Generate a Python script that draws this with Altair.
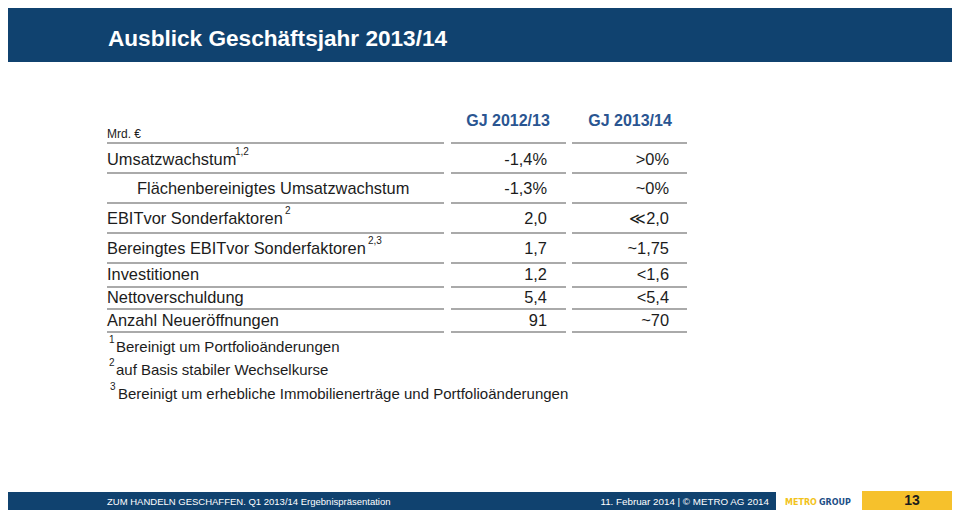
import altair as alt
import pandas as pd

# ---------------- content ----------------
title = "Ausblick Geschäftsjahr 2013/14"
unit = "Mrd. €"
col_headers = ["GJ 2012/13", "GJ 2013/14"]
labels = [
    "Umsatzwachstum",
    "Flächenbereinigtes Umsatzwachstum",
    "EBITvor Sonderfaktoren",
    "Bereingtes EBITvor Sonderfaktoren",
    "Investitionen",
    "Nettoverschuldung",
    "Anzahl Neueröffnungen",
]
label_sups = ["1,2", "", "2", "2,3", "", "", ""]
gj_2012_13 = ["-1,4%", "-1,3%", "2,0", "1,7", "1,2", "5,4", "91"]
gj_2013_14 = [">0%", "~0%", "≪2,0", "~1,75", "<1,6", "<5,4", "~70"]
footnote_marks = ["1", "2", "3"]
footnotes = [
    "Bereinigt um Portfolioänderungen",
    "auf Basis stabiler Wechselkurse",
    "Bereinigt um erhebliche Immobilienerträge und Portfolioänderungen",
]
footer_left = "ZUM HANDELN GESCHAFFEN. Q1 2013/14 Ergebnispräsentation"
footer_right = "11. Februar 2014 | © METRO AG 2014"
logo_parts = ["METRO", "GROUP"]
page_number = "13"

# ---------------- layout (slide coordinates) ----------------
ROW_Y = [160, 189, 219, 249, 275, 298, 321]
RULE_Y = [143, 173, 203, 233, 263, 287, 309, 332]
INDENT = [107, 137, 107, 107, 107, 107, 107]
SUP_X = [235, None, 285, 368, None, None, None]
SEGMENTS = [(107, 444), (451, 566), (572, 687)]
COL_RIGHT = [547, 669]
HEADER_CX = [508, 630]
FOOT_Y = [347, 370, 394]
FOOT_SUP_X = [109, 109, 110]
FOOT_TXT_X = [116, 116, 118]

BLUE = "#10426f"
TXT = "#1c1c1c"
HEAD_BLUE = "#2a5591"
RULE = "#8e8e8e"
YELLOW = "#f6c12c"

# the chart occupies page pixels 8..952 x 8..510 -> map slide coords 1:1
xs = alt.Scale(domain=[8, 952], nice=False, zero=False)
ys = alt.Scale(domain=[8, 510], reverse=True, nice=False, zero=False)


def text_layer(rows, **kw):
    df = pd.DataFrame(rows, columns=["x", "y", "t"])
    return alt.Chart(df).mark_text(**kw).encode(
        x=alt.X("x:Q", scale=xs, axis=None),
        y=alt.Y("y:Q", scale=ys, axis=None),
        text=alt.Text("t:N"),
    )


# bands
bands = pd.DataFrame(
    [
        (8, 952, 8, 62, BLUE),
        (8, 776, 492, 510, BLUE),
        (862, 952, 491, 510, YELLOW),
    ],
    columns=["x", "x2", "y", "y2", "c"],
)
band_layer = alt.Chart(bands).mark_rect().encode(
    x=alt.X("x:Q", scale=xs, axis=None),
    x2="x2:Q",
    y=alt.Y("y:Q", scale=ys, axis=None),
    y2="y2:Q",
    color=alt.Color("c:N", scale=None),
)

# table rules
rule_rows = [(a, b, y) for y in RULE_Y for (a, b) in SEGMENTS]
rules = pd.DataFrame(rule_rows, columns=["x", "x2", "y"])
rule_layer = alt.Chart(rules).mark_rule(color=RULE, strokeWidth=1.6).encode(
    x=alt.X("x:Q", scale=xs, axis=None),
    x2="x2:Q",
    y=alt.Y("y:Q", scale=ys, axis=None),
)

font = "Liberation Sans"

layers = [band_layer, rule_layer]

layers.append(text_layer([(108, 46, title)], font=font, fontSize=22.6, fontWeight="bold",
                         color="white", align="left", baseline="alphabetic"))
layers.append(text_layer([(107, 134, unit)], font=font, fontSize=12, color=TXT,
                         align="left", baseline="middle"))
layers.append(text_layer([(HEADER_CX[i], 121, col_headers[i]) for i in range(2)],
                         font=font, fontSize=16, fontWeight="bold", color=HEAD_BLUE,
                         align="center", baseline="middle"))
layers.append(text_layer([(INDENT[i], ROW_Y[i], labels[i]) for i in range(len(labels))],
                         font=font, fontSize=16.4, color=TXT, align="left", baseline="middle"))
layers.append(text_layer([(SUP_X[i], ROW_Y[i] - 8, label_sups[i]) for i in range(len(labels)) if label_sups[i]],
                         font=font, fontSize=10, color=TXT, align="left", baseline="middle"))
layers.append(text_layer([(COL_RIGHT[0], ROW_Y[i], gj_2012_13[i]) for i in range(len(labels))]
                         + [(COL_RIGHT[1], ROW_Y[i], gj_2013_14[i]) for i in range(len(labels))],
                         font=font, fontSize=16.4, color=TXT, align="right", baseline="middle"))
layers.append(text_layer([(FOOT_SUP_X[i], FOOT_Y[i] - 7, footnote_marks[i]) for i in range(3)],
                         font=font, fontSize=10, color=TXT, align="left", baseline="middle"))
layers.append(text_layer([(FOOT_TXT_X[i], FOOT_Y[i], footnotes[i]) for i in range(3)],
                         font=font, fontSize=15, color=TXT, align="left", baseline="middle"))
layers.append(text_layer([(107, 502, footer_left)], font=font, fontSize=9.5, color="white",
                         align="left", baseline="middle"))
layers.append(text_layer([(769, 502, footer_right)], font=font, fontSize=9.8, color="white",
                         align="right", baseline="middle"))
layers.append(text_layer([(785, 503, logo_parts[0])], font="DejaVu Sans", fontSize=8,
                         fontWeight="bold", color="#f2c31b", align="left", baseline="middle"))
layers.append(text_layer([(819, 503, logo_parts[1])], font="DejaVu Sans", fontSize=8,
                         fontWeight="bold", color="#1d4f86", align="left", baseline="middle"))
layers.append(text_layer([(912, 501, page_number)], font=font, fontSize=14, fontWeight="bold",
                         color=TXT, align="center", baseline="middle"))

chart = alt.layer(*layers).properties(
    width=944,
    height=502,
    padding=0,
    autosize=alt.AutoSizeParams(type="none"),
    background="white",
).configure_view(stroke=None)

chart.save("out.html", embed_options={"renderer": "svg", "actions": False})
